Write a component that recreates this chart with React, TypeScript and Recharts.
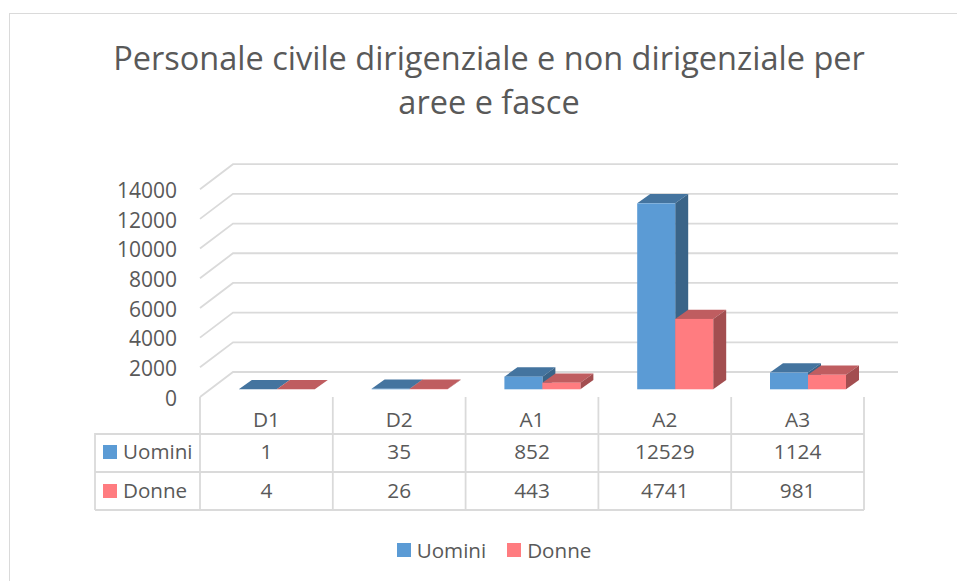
import * as React from "react";
import { Bar, BarChart, CartesianGrid, Legend, XAxis, YAxis } from "recharts";

const CATEGORIES = ["D1", "D2", "A1", "A2", "A3"];
const UOMINI = [1, 35, 852, 12529, 1124];
const DONNE = [4, 26, 443, 4741, 981];
const Y_TICKS = [0, 2000, 4000, 6000, 8000, 10000, 12000, 14000];

const rows = CATEGORIES.map((name, i) => ({ name, Uomini: UOMINI[i], Donne: DONNE[i] }));

const FONT = "'Open Sans', sans-serif";
const TEXT = "#595959";
const GRID = "#dadada";
const BLUE = "#5b9bd5";
const RED = "#ff7c80";

const BAND = 132.8;
// offset of the plot plane (where bars stand) from the front and back walls
const FRONT_DX = -10.8;
const FRONT_DY = 7.7;
const BACK_DX = 22.2;
const BACK_DY = -17.3;
const DEPTH_X = 13;
const DEPTH_Y = -9.3;

const TABLE_LEFT = 95;
const TABLE_TOP = 434;
const ROW1 = 472;
const TABLE_BOTTOM = 510;
const LINE_W = 1.8;

function Box3D(props: any) {
  const { x, y, width, height, fill, top, side } = props;
  const r = x + width;
  const b = y + height;
  const dx = DEPTH_X;
  const dy = DEPTH_Y;
  return (
    <g>
      <polygon points={`${x},${y} ${x + dx},${y + dy} ${r + dx},${y + dy} ${r},${y}`} fill={top} />
      <polygon points={`${r},${y} ${r + dx},${y + dy} ${r + dx},${b + dy} ${r},${b}`} fill={side} />
      <rect x={x} y={y} width={width} height={height} fill={fill} />
    </g>
  );
}

function GridLine(props: any) {
  const { x1, x2, y1 } = props;
  return (
    <g stroke={GRID} strokeWidth={LINE_W} fill="none">
      <polyline
        points={`${x1 + FRONT_DX},${y1 + FRONT_DY} ${x1 + BACK_DX},${y1 + BACK_DY} ${x2 + BACK_DX + 1},${y1 + BACK_DY}`}
      />
    </g>
  );
}

function YTick(props: any) {
  const { y, payload } = props;
  return (
    <text x={177} y={y + 8.8} dy="0.36em" textAnchor="end" fontSize={21} fontFamily={FONT} fill={TEXT}>
      {payload.value}
    </text>
  );
}

// one table column per category: label, separators, both series values
function TableTick(props: any) {
  const { x, payload, index } = props;
  const center = x + FRONT_DX;
  const left = center - BAND / 2;
  const right = center + BAND / 2;
  const label = { textAnchor: "middle" as const, fontSize: 20.8, fontFamily: FONT, fill: TEXT };
  return (
    <g>
      <line x1={left} x2={left} y1={397} y2={TABLE_BOTTOM} stroke={GRID} strokeWidth={LINE_W} />
      {index === CATEGORIES.length - 1 && (
        <line x1={right} x2={right} y1={397} y2={TABLE_BOTTOM} stroke={GRID} strokeWidth={LINE_W} />
      )}
      <text x={center} y={420} dy="0.36em" {...label}>
        {payload.value}
      </text>
      <text x={center} y={452} dy="0.36em" {...label}>
        {UOMINI[index]}
      </text>
      <text x={center} y={491} dy="0.36em" {...label}>
        {DONNE[index]}
      </text>
    </g>
  );
}

function RowHeader({ y, name, color }: { y: number; name: string; color: string }) {
  return (
    <g>
      <rect x={103} y={y - 7} width={14} height={14} fill={color} />
      <text x={123} y={y} dy="0.36em" fontSize={20.6} fontFamily={FONT} fill={TEXT}>
        {name}
      </text>
    </g>
  );
}

function LegendRow() {
  return (
    <div
      style={{
        display: "flex",
        justifyContent: "center",
        gap: 21,
        height: 0,
        fontFamily: FONT,
        fontSize: 20.6,
        color: TEXT,
      }}
    >
      {[
        ["Uomini", BLUE],
        ["Donne", RED],
      ].map(([name, color]) => (
        <span key={name} style={{ display: "flex", alignItems: "center", gap: 6, height: 28 }}>
          <span style={{ width: 14, height: 14, background: color, display: "inline-block" }} />
          {name}
        </span>
      ))}
    </div>
  );
}

export default function App() {
  return (
    <div style={{ position: "absolute", left: 0, top: 0, width: 957, height: 581, background: "#fff", overflow: "hidden" }}>
      <div
        style={{
          position: "absolute",
          left: 9,
          top: 13,
          width: 1000,
          height: 600,
          border: `1.5px solid ${GRID}`,
          boxSizing: "border-box",
        }}
      />
      <div
        style={{
          position: "absolute",
          left: 60,
          top: 36,
          width: 858,
          textAlign: "center",
          fontFamily: FONT,
          fontSize: 32.5,
          lineHeight: "44px",
          color: TEXT,
        }}
      >
        Personale civile dirigenziale e non dirigenziale per
        <br />
        aree e fasce
      </div>
      <BarChart
        width={957}
        height={581}
        data={rows}
        barSize={38}
        barGap={0}
        margin={{ left: 150.8, right: 82.2, top: 181.5, bottom: 91.7 }}
        style={{ position: "absolute", left: 0, top: 0 }}
      >
        <CartesianGrid vertical={false} horizontal={(p: any) => <GridLine key={p.index} {...p} />} />
        <XAxis dataKey="name" axisLine={false} tickLine={false} height={100} tick={<TableTick />} interval={0} />
        <YAxis
          width={60}
          domain={[0, 14000]}
          ticks={Y_TICKS}
          axisLine={false}
          tickLine={false}
          tick={<YTick />}
          interval={0}
        />
        <Bar dataKey="Uomini" fill={BLUE} isAnimationActive={false} shape={<Box3D top="#44749f" side="#3a6488" />} />
        <Bar dataKey="Donne" fill={RED} isAnimationActive={false} shape={<Box3D top="#bf5d60" side="#a34e50" />} />
        <Legend
          content={<LegendRow />}
          wrapperStyle={{ position: "absolute", left: 0, width: 988, top: 536, bottom: "auto" }}
        />
        <g stroke={GRID} strokeWidth={LINE_W} fill="none">
          <polyline points={`${TABLE_LEFT},${TABLE_BOTTOM} ${TABLE_LEFT},${TABLE_TOP} 864,${TABLE_TOP}`} />
          <line x1={TABLE_LEFT} x2={864} y1={ROW1} y2={ROW1} />
          <line x1={TABLE_LEFT} x2={864} y1={TABLE_BOTTOM} y2={TABLE_BOTTOM} />
        </g>
        <RowHeader y={452} name="Uomini" color={BLUE} />
        <RowHeader y={491} name="Donne" color={RED} />
      </BarChart>
    </div>
  );
}
